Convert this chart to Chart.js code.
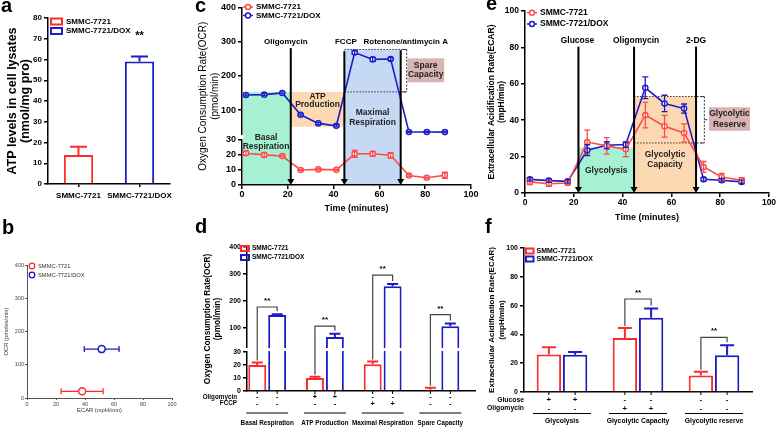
<!DOCTYPE html>
<html>
<head>
<meta charset="utf-8">
<script src="https://cdn.jsdelivr.net/npm/chart.js@4.4.1/dist/chart.umd.min.js"></script>
<style>
  body { margin: 0; background: #fff; }
  #fig { position: relative; width: 778px; height: 427px; overflow: hidden; background: #fff; }
  canvas { position: absolute; }
  .lt { position: absolute; font: bold 20px "Liberation Sans", Arial, sans-serif; line-height: 20px; z-index: 2; }
</style>
</head>
<body>
<div id="fig">
  <div class="lt" style="left:1px;top:-5px">a</div>
  <div class="lt" style="left:2px;top:217px">b</div>
  <div class="lt" style="left:195px;top:-5px">c</div>
  <div class="lt" style="left:195px;top:216px">d</div>
  <div class="lt" style="left:486px;top:-7px">e</div>
  <div class="lt" style="left:485px;top:216px">f</div>
  <canvas id="chartA"></canvas>
  <canvas id="chartB"></canvas>
  <canvas id="chartC"></canvas>
  <canvas id="chartD"></canvas>
  <canvas id="chartE"></canvas>
  <canvas id="chartF"></canvas>
</div>
<script>
// ---- data ----
const cellLines = ['SMMC-7721', 'SMMC-7721/DOX'];

// a - ATP levels
const atpLevel = [14, 59];
const atpErr = [4, 2.5];

// b - energy map
const mapEcar = [38, 51.5];
const mapEcarErr = [14.5, 12];
const mapOcr = [20, 147];

// c - OCR time course
const ocrTime = [1.7, 9.7, 17.6, 25.6, 33.3, 41.2, 49.2, 57.1, 64.9, 72.9, 80.7, 88.6];
const ocrParent = [21.2, 20.1, 19.3, 10, 10.4, 10.1, 20.8, 20.8, 19.8, 6.3, 4.8, 6.5];
const ocrParentErr = [1.5, 1.5, 0.6, 0.5, 0.5, 0.5, 2.3, 1.6, 1.8, 0.6, 0.5, 2];
const ocrDox = [144, 145, 150, 86, 61, 54, 268, 248, 249, 36, 36, 35.5];
const ocrDoxErr = [3, 3, 3, 3, 3, 3, 5, 6, 4, 2, 2, 2];
const ocrTicks = [0, 10, 20, 30, 100, 200, 300, 400];
const ocrInject = ['Oligomycin', 'FCCP', 'Rotenone/antimycin A'];
const ocrInjectTime = [21.3, 44.7, 69.3];

// d - OCR parameters
const ocrParams = ['Basal Respiration', 'ATP Production', 'Maximal Respiration', 'Spare Capacity'];
const ocrParamParent = [20, 10, 20.5, 1];
const ocrParamParentErr = [2, 1, 2.2, 1.5];
const ocrParamDox = [148, 67, 255, 107];
const ocrParamDoxErr = [3, 12, 8, 10];
const dOligomycin = ['-', '+', '-', '-'];
const dFccp = ['-', '-', '+', '-'];

// e - ECAR time course
const ecarTime = [2, 9.8, 17.5, 25.5, 33.5, 41.3, 49.3, 57.2, 65.2, 73.2, 80.6, 88.8];
const ecarParent = [6.1, 5.1, 5.5, 28, 25.9, 24, 42.8, 36.7, 33, 14.3, 8.8, 7];
const ecarParentErr = [1.5, 1.5, 1, 6.5, 4.5, 4, 7, 6, 5, 3, 2, 1.5];
const ecarDox = [7.5, 6.8, 6.4, 23.5, 26.2, 26.6, 57.8, 49.2, 46.4, 7.5, 7, 6.1];
const ecarDoxErr = [1, 1, 1, 3, 2, 1.5, 6, 4.5, 2.5, 1, 1, 1];
const ecarInject = ['Glucose', 'Oligomycin', '2-DG'];
const ecarInjectTime = [21.9, 44.7, 70.1];

// f - ECAR parameters
const ecarParams = ['Glycolysis', 'Glycolytic Capacity', 'Glycolytic reserve'];
const ecarParamParent = [26, 37.5, 11.5];
const ecarParamParentErr = [5, 7, 2.5];
const ecarParamDox = [25.8, 51.5, 25.5];
const ecarParamDoxErr = [2, 6.5, 7];
const fGlucose = ['+', '-', '-'];
const fOligomycin = ['-', '+', '-'];

// ---- styling / helpers ----
const RED = '#ff2b2b', REDL = '#ff4a4a', BLUE = '#1c1cc8';
const FONT = '"Liberation Sans", Arial, sans-serif';
Chart.defaults.font.family = FONT;
Chart.defaults.color = '#000';
Chart.defaults.animation = false;
Chart.defaults.responsive = false;
Chart.defaults.plugins.legend.display = false;
Chart.defaults.plugins.tooltip.enabled = false;

// y axis with a break: lower part and upper part get their own pixel share
class BrokenScale extends Chart.LinearScale {
  getPixelForValue(v) {
    const b = this.options.brk;
    if (v <= b.value) return this.bottom - (v - this.min) / (b.value - this.min) * b.low;
    const base = this.bottom - b.low - b.gap;
    return base - (v - b.value) / (this.max - b.value) * (base - this.top);
  }
  getValueForPixel(p) {
    const b = this.options.brk;
    const lowTop = this.bottom - b.low;
    if (p >= lowTop) return this.min + (this.bottom - p) / b.low * (b.value - this.min);
    const base = lowTop - b.gap;
    return b.value + (base - p) / (base - this.top) * (this.max - b.value);
  }
}
BrokenScale.id = 'broken';
BrokenScale.defaults = {};
Chart.register(BrokenScale);

// place canvas and return layout numbers so the plot area lands on [x0,y0,x1,y1]
function place(id, L, T, W, H, area) {
  const c = document.getElementById(id);
  c.width = W; c.height = H; c.style.left = L + 'px'; c.style.top = T + 'px';
  return {
    el: c,
    padding: { left: 0, top: area[1] - T, right: L + W - area[2], bottom: 0 },
    yw: area[0] - L,
    xh: T + H - area[3]
  };
}

function text(ctx, s, x, y, size, o = {}) {
  ctx.save();
  ctx.font = `${o.weight || 'bold'} ${size}px ${FONT}`;
  ctx.fillStyle = o.color || '#000';
  ctx.textAlign = o.align || 'center';
  ctx.textBaseline = 'middle';
  ctx.fillText(s, x, y);
  ctx.restore();
}
function box(ctx, x0, y0, x1, y1, fill) {
  ctx.save(); ctx.fillStyle = fill;
  ctx.fillRect(Math.min(x0, x1), Math.min(y0, y1), Math.abs(x1 - x0), Math.abs(y1 - y0));
  ctx.restore();
}
function seg(ctx, x0, y0, x1, y1, color, w, dash) {
  ctx.save(); ctx.strokeStyle = color; ctx.lineWidth = w;
  if (dash) ctx.setLineDash(dash);
  ctx.beginPath(); ctx.moveTo(x0, y0); ctx.lineTo(x1, y1); ctx.stroke();
  ctx.restore();
}
function bracket(ctx, x, yTop, yBot) {
  seg(ctx, x - 4, yTop, x, yTop, '#333', 1);
  seg(ctx, x, yTop, x, yBot, '#333', 1, [2, 1.5]);
  seg(ctx, x - 4, yBot, x, yBot, '#333', 1);
  seg(ctx, x, (yTop + yBot) / 2, x + 3, (yTop + yBot) / 2, '#333', 1);
}
function downArrow(ctx, x, y0, y1) {
  seg(ctx, x, y0, x, y1 - 5, '#000', 2);
  ctx.save(); ctx.fillStyle = '#000';
  ctx.beginPath(); ctx.moveTo(x - 3.5, y1 - 6); ctx.lineTo(x + 3.5, y1 - 6); ctx.lineTo(x, y1); ctx.closePath(); ctx.fill();
  ctx.restore();
}
function lineLegend(ctx, x, y, color, label, size) {
  ctx.save(); ctx.strokeStyle = color; ctx.lineWidth = 1.5;
  ctx.beginPath(); ctx.moveTo(x - 5, y); ctx.lineTo(x + 5, y); ctx.stroke();
  ctx.fillStyle = '#fff'; ctx.beginPath(); ctx.arc(x, y, 2.5, 0, Math.PI * 2); ctx.fill(); ctx.stroke();
  ctx.restore();
  text(ctx, label, x + 8, y, size, { align: 'left' });
}
function boxLegend(ctx, x, y, w, h, color, label, size, gap) {
  ctx.save(); ctx.strokeStyle = color; ctx.lineWidth = 2; ctx.strokeRect(x, y - h / 2, w, h); ctx.restore();
  text(ctx, label, x + w + gap, y, size, { align: 'left' });
}
function sig(ctx, xL, yL, xR, yR, yTop, size) {
  ctx.save(); ctx.strokeStyle = '#444'; ctx.lineWidth = 1.2;
  ctx.beginPath(); ctx.moveTo(xL, yL); ctx.lineTo(xL, yTop); ctx.lineTo(xR, yTop); ctx.lineTo(xR, yR); ctx.stroke();
  ctx.restore();
  text(ctx, '**', (xL + xR) / 2, yTop - 6, size);
}

// error bars
function errorBars(errs, cfg) {
  const hook = cfg.before ? 'beforeDatasetsDraw' : 'afterDatasetsDraw';
  return {
    id: 'errorBars',
    [hook](chart) {
      const ctx = chart.ctx;
      chart.data.datasets.forEach((ds, i) => {
        const e = errs[i];
        if (!e) return;
        const meta = chart.getDatasetMeta(i);
        const vs = meta.vScale;
        meta.data.forEach((el, j) => {
          const v = meta.controller.getParsed(j)[vs.axis];
          const col = Array.isArray(ds.borderColor) ? ds.borderColor[j] : ds.borderColor;
          const hi = vs.getPixelForValue(v + e[j]);
          const lo = cfg.up ? el.y : vs.getPixelForValue(v - e[j]);
          ctx.save(); ctx.strokeStyle = col; ctx.lineWidth = cfg.width;
          ctx.beginPath();
          ctx.moveTo(el.x, lo); ctx.lineTo(el.x, hi);
          ctx.moveTo(el.x - cfg.cap / 2, hi); ctx.lineTo(el.x + cfg.cap / 2, hi);
          if (!cfg.up) { ctx.moveTo(el.x - cfg.cap / 2, lo); ctx.lineTo(el.x + cfg.cap / 2, lo); }
          ctx.stroke(); ctx.restore();
        });
      });
    }
  };
}

function axisY(g, o) {
  return Object.assign({
    afterFit: s => { s.width = g.yw; },
    ticks: { font: { size: o.tick, weight: 'bold' }, padding: 2, color: '#000', autoSkip: false },
    grid: { drawOnChartArea: false, tickLength: 4, color: '#000', lineWidth: 1.5 },
    border: { color: '#000', width: 1.5 },
    title: { display: true, text: o.title, color: '#000', font: { size: o.tsize, weight: o.tweight || 'bold', lineHeight: o.tlh || 1.2 }, padding: { top: o.tpad, bottom: 0 } }
  }, o.extra || {});
}

// ---- a: ATP bar chart ----
const gA = place('chartA', 0, 0, 195, 212, [48, 18, 170, 184]);
new Chart(gA.el, {
  type: 'bar',
  data: {
    labels: cellLines,
    datasets: [{ data: atpLevel, borderColor: [RED, BLUE], backgroundColor: '#fff', borderWidth: 2,
      borderSkipped: 'start', barPercentage: 1, categoryPercentage: 0.48 }]
  },
  options: {
    layout: { padding: gA.padding, autoPadding: false },
    scales: {
      x: {
        afterFit: s => { s.height = gA.xh; },
        ticks: { font: { size: 8, weight: 'bold' }, color: '#000', padding: 4, maxRotation: 0, autoSkip: false },
        grid: { drawOnChartArea: false, offset: false, tickLength: 3, color: '#000', lineWidth: 1.5 },
        border: { color: '#000', width: 1.5 }
      },
      y: axisY(gA, { tick: 8, title: ['ATP levels in cell lysates', '(nmol/mg pro)'], tsize: 12.5, tlh: 1.05, tpad: 5.5,
        extra: { min: 0, max: 80 } })
    }
  },
  plugins: [errorBars([atpErr], { up: true, cap: 17, width: 2 }), {
    id: 'decorA',
    afterDraw(chart) {
      const { ctx, chartArea: a, scales: { y } } = chart;
      boxLegend(ctx, a.left + 3, 21.5, 11, 6, RED, cellLines[0], 8, 4);
      boxLegend(ctx, a.left + 3, 31, 11, 6, BLUE, cellLines[1], 8, 4);
      const bar = chart.getDatasetMeta(0).data[1];
      text(ctx, '**', bar.x, y.getPixelForValue(71.5), 11);
    }
  }]
});

// ---- b: energy map scatter ----
const gB = place('chartB', 0, 212, 195, 215, [27, 265, 172, 398]);
new Chart(gB.el, {
  type: 'scatter',
  data: {
    datasets: cellLines.map((name, i) => ({
      label: name,
      data: [{ x: mapEcar[i], y: mapOcr[i] }],
      pointRadius: 3.5, pointBorderWidth: 1.5, pointBackgroundColor: '#fff',
      borderColor: i ? BLUE : RED, pointBorderColor: i ? BLUE : RED
    }))
  },
  options: {
    layout: { padding: gB.padding, autoPadding: false },
    scales: {
      x: {
        min: 0, max: 100, afterFit: s => { s.height = gB.xh; },
        ticks: { stepSize: 20, font: { size: 5.5 }, color: '#444', padding: 1, maxRotation: 0 },
        grid: { drawOnChartArea: false, tickLength: 2, color: '#555' },
        border: { color: '#555', width: 1 },
        title: { display: true, text: 'ECAR (mpH/min)', color: '#333', font: { size: 5.8 }, padding: { top: 0, bottom: 13 } }
      },
      y: {
        min: 0, max: 400, afterFit: s => { s.width = gB.yw; },
        ticks: { stepSize: 100, font: { size: 5.5 }, color: '#444', padding: 1 },
        grid: { drawOnChartArea: false, tickLength: 2, color: '#555' },
        border: { color: '#555', width: 1 },
        title: { display: true, text: 'OCR (pmoles/min)', color: '#333', font: { size: 5.8 }, padding: { top: 3, bottom: 0 } }
      }
    }
  },
  plugins: [{
    id: 'decorB',
    beforeDatasetsDraw(chart) {
      const { ctx, scales: { x, y } } = chart;
      chart.data.datasets.forEach((ds, i) => {
        const py = y.getPixelForValue(mapOcr[i]);
        const l = x.getPixelForValue(mapEcar[i] - mapEcarErr[i]);
        const r = x.getPixelForValue(mapEcar[i] + mapEcarErr[i]);
        seg(ctx, l, py, r, py, ds.borderColor, 1.3);
        seg(ctx, l, py - 3, l, py + 3, ds.borderColor, 1.3);
        seg(ctx, r, py - 3, r, py + 3, ds.borderColor, 1.3);
      });
    },
    afterDraw(chart) {
      const ctx = chart.ctx;
      chart.data.datasets.forEach((ds, i) => {
        const yy = 266 - 212 + i * 9;
        ctx.save(); ctx.strokeStyle = ds.borderColor; ctx.lineWidth = 1.3;
        ctx.beginPath(); ctx.arc(32, yy, 2.8, 0, Math.PI * 2); ctx.stroke(); ctx.restore();
        text(ctx, ds.label, 38, yy, 5.8, { weight: 'normal', align: 'left', color: '#333' });
      });
    }
  }]
});

// ---- c: OCR time course ----
const gC = place('chartC', 195, 0, 285, 220, [242, 7, 471, 185]);
function lineSet(label, xs, ys, color, style) {
  return { label, data: xs.map((t, i) => ({ x: t, y: ys[i] })), borderColor: color, borderWidth: 1.6,
    pointRadius: 2.6, pointStyle: style, pointBackgroundColor: '#fff', pointBorderColor: color, pointBorderWidth: 1.4, tension: 0 };
}
new Chart(gC.el, {
  type: 'line',
  data: { datasets: [lineSet(cellLines[0], ocrTime, ocrParent, REDL, 'circle'), lineSet(cellLines[1], ocrTime, ocrDox, BLUE, 'circle')] },
  options: {
    layout: { padding: gC.padding, autoPadding: false },
    scales: {
      x: {
        type: 'linear', min: 0, max: 100, afterFit: s => { s.height = gC.xh; },
        ticks: { stepSize: 20, font: { size: 9, weight: 'bold' }, color: '#000', padding: 0, maxRotation: 0 },
        grid: { drawOnChartArea: false, tickLength: 4, color: '#000', lineWidth: 1.5 },
        border: { color: '#000', width: 1.5 },
        title: { display: true, text: 'Time (minutes)', color: '#000', font: { size: 9, weight: 'bold' }, padding: { top: 0, bottom: 5.6 } }
      },
      y: axisY(gC, { tick: 9, title: ['Oxygen Consumption Rate(OCR)', '(pmol/min)'], tsize: 10, tweight: 'normal', tpad: 2,
        extra: { type: 'broken', min: 0, max: 400, brk: { value: 30, low: 45, gap: 6 },
          afterBuildTicks: s => { s.ticks = ocrTicks.map(v => ({ value: v })); } } })
    }
  },
  plugins: [{
    id: 'decorC',
    beforeDatasetsDraw(chart) {
      const { ctx, scales: { x, y } } = chart;
      const X = v => x.getPixelForValue(v), Y = v => y.getPixelForValue(v);
      const [t1, t2, t3] = ocrInjectTime;
      box(ctx, X(0) + 1, Y(153), X(t1), Y(0) - 1, '#a6f0d3');
      box(ctx, X(t1), Y(153), X(t2), Y(51), '#fcd9b2');
      box(ctx, X(t2), Y(277), X(t3), Y(0) - 1, '#c6d9f4');
      seg(ctx, X(t2), Y(277), X(t3) + 5, Y(277), '#333', 1, [1.5, 1.5]);
      seg(ctx, X(t2), Y(153), X(t3) + 5, Y(153), '#333', 1, [1.5, 1.5]);
      bracket(ctx, X(t3) + 6, Y(277), Y(153));
      box(ctx, X(72.2), Y(251), X(88.3), Y(181), '#dab3b3');
      const c = '#222';
      text(ctx, 'Spare', X(80.2), Y(229), 8.5, { color: c });
      text(ctx, 'Capacity', X(80.2), Y(202), 8.5, { color: c });
      text(ctx, 'Basal', X(10.5), Y(25.5) - 9.5, 8.5, { color: c });
      text(ctx, 'Respiration', X(10.5), Y(25.5), 8.5, { color: c });
      text(ctx, 'ATP', X(33), Y(138), 8.5, { color: c });
      text(ctx, 'Production', X(33), Y(115), 8.5, { color: c });
      text(ctx, 'Maximal', X(57), Y(92), 8.5, { color: c });
      text(ctx, 'Respiration', X(57), Y(62), 8.5, { color: c });
    },
    afterDatasetsDraw(chart) {
      const { ctx, chartArea: a, scales: { x, y } } = chart;
      const X = v => x.getPixelForValue(v), Y = v => y.getPixelForValue(v);
      const tops = [281, 272, 275], shift = [-5, 1.5, 5];
      ocrInjectTime.forEach((t, i) => {
        downArrow(ctx, X(t), Y(tops[i]), Y(0));
        text(ctx, ocrInject[i], X(t) + shift[i], Y(300), 8);
      });
      // axis break
      const b = y.options.brk;
      ctx.save(); ctx.fillStyle = '#fff';
      ctx.fillRect(a.left - 3, a.bottom - b.low - b.gap + 1, 4.5, b.gap - 2); ctx.restore();
      lineLegend(ctx, a.left + 6, 7, REDL, cellLines[0], 8);
      lineLegend(ctx, a.left + 6, 15.5, BLUE, cellLines[1], 8);
    }
  }, errorBars([ocrParentErr, ocrDoxErr], { cap: 6, width: 1.3 })]
});

// ---- d: OCR parameters ----
const gD = place('chartD', 195, 220, 285, 207, [247, 247, 475, 391]);
function barSet(label, vals, color, asXY) {
  return { label, data: asXY ? vals.map((v, i) => ({ x: i, y: v })) : vals, borderColor: color, backgroundColor: '#fff',
    borderWidth: 2, borderSkipped: 'start' };
}
function paramRows(chart, rows, names, o) {
  const { ctx, chartArea: a } = chart;
  const m0 = chart.getDatasetMeta(0), m1 = chart.getDatasetMeta(1);
  rows.forEach((r, k) => {
    text(ctx, r.name, a.left + o.labelDx, o.rowY[k], o.size, { align: 'right' });
    r.signs.forEach((s, j) => {
      text(ctx, s, m0.data[j].x, o.rowY[k], o.size + 1);
      text(ctx, s, m1.data[j].x, o.rowY[k], o.size + 1);
    });
  });
  names.forEach((n, j) => {
    const cx = (m0.data[j].x + m1.data[j].x) / 2;
    seg(ctx, cx - o.half, o.lineY, cx + o.half, o.lineY, '#000', 1);
    text(ctx, n, cx, o.nameY, o.size);
    seg(ctx, m0.data[j].x, a.bottom, m0.data[j].x, a.bottom + 3, '#000', 1);
    seg(ctx, m1.data[j].x, a.bottom, m1.data[j].x, a.bottom + 3, '#000', 1);
  });
}
new Chart(gD.el, {
  type: 'bar',
  data: { datasets: [barSet(cellLines[0], ocrParamParent, RED, true), barSet(cellLines[1], ocrParamDox, BLUE, true)] },
  options: {
    layout: { padding: gD.padding, autoPadding: false },
    datasets: { bar: { barPercentage: 0.9, categoryPercentage: 0.69 } },
    scales: {
      x: {
        type: 'linear', min: -0.35, max: 3.6, offset: false, afterFit: s => { s.height = gD.xh; },
        afterBuildTicks: s => { s.ticks = ocrParams.map((_, i) => ({ value: i })); },
        ticks: { display: false }, grid: { display: false }, border: { color: '#000', width: 1.5 }
      },
      y: axisY(gD, { tick: 7, title: ['Oxygen Consumption Rate(OCR)', '(pmol/min)'], tsize: 8.3, tlh: 1.15, tpad: 8,
        extra: { type: 'broken', min: 0, max: 400, brk: { value: 30, low: 39, gap: 5 },
          afterBuildTicks: s => { s.ticks = ocrTicks.map(v => ({ value: v })); } } })
    }
  },
  plugins: [errorBars([ocrParamParentErr, ocrParamDoxErr], { up: true, cap: 11, width: 2 }), {
    id: 'decorD',
    afterDatasetsDraw(chart) {
      const { ctx, chartArea: a, scales: { y } } = chart;
      const b = y.options.brk;
      ctx.save(); ctx.fillStyle = '#fff';
      ctx.fillRect(a.left - 3, a.bottom - b.low - b.gap + 1, a.right - a.left + 3, b.gap - 2); ctx.restore();
      const Y = v => y.getPixelForValue(v);
      const m0 = chart.getDatasetMeta(0), m1 = chart.getDatasetMeta(1);
      const levels = [178, 107, 296, 150];
      levels.forEach((lv, j) => {
        sig(ctx, m0.data[j].x, Y(ocrParamParent[j] + ocrParamParentErr[j]) - 2,
          m1.data[j].x, Y(ocrParamDox[j] + ocrParamDoxErr[j]) - 3, Y(lv), 8);
      });
      boxLegend(ctx, a.left - 6, 248.5 - 220, 8, 5, RED, cellLines[0], 6.5, 3);
      boxLegend(ctx, a.left - 6, 257.5 - 220, 8, 5, BLUE, cellLines[1], 6.5, 3);
      paramRows(chart, [{ name: 'Oligomycin', signs: dOligomycin }, { name: 'FCCP', signs: dFccp }], ocrParams,
        { labelDx: -10, rowY: [397 - 220, 403.5 - 220], size: 6.3, half: 21, lineY: 413 - 220, nameY: 423 - 220 });
    }
  }]
});

// ---- e: ECAR time course ----
const gE = place('chartE', 480, 0, 298, 225, [525, 11, 769, 193]);
new Chart(gE.el, {
  type: 'line',
  data: { datasets: [lineSet(cellLines[0], ecarTime, ecarParent, REDL, 'circle'), lineSet(cellLines[1], ecarTime, ecarDox, BLUE, 'circle')] },
  options: {
    layout: { padding: gE.padding, autoPadding: false },
    scales: {
      x: {
        type: 'linear', min: 0, max: 100, afterFit: s => { s.height = gE.xh; },
        ticks: { stepSize: 20, font: { size: 8.5, weight: 'bold' }, color: '#000', padding: 1, maxRotation: 0 },
        grid: { drawOnChartArea: false, tickLength: 4, color: '#000', lineWidth: 1.5 },
        border: { color: '#000', width: 1.5 },
        title: { display: true, text: 'Time (minutes)', color: '#000', font: { size: 9, weight: 'bold' }, padding: { top: 0, bottom: 1.6 } }
      },
      y: axisY(gE, { tick: 8.5, title: ['Extracellular Acidification Rate(ECAR)', '(mpH/min)'], tsize: 8.5, tlh: 1.15, tpad: 6.8,
        extra: { min: 0, max: 100, ticks: { stepSize: 20, font: { size: 8.5, weight: 'bold' }, padding: 2, color: '#000' } } })
    }
  },
  plugins: [{
    id: 'decorE',
    beforeDatasetsDraw(chart) {
      const { ctx, scales: { x, y } } = chart;
      const X = v => x.getPixelForValue(v), Y = v => y.getPixelForValue(v);
      const [t1, t2, t3] = ecarInjectTime;
      box(ctx, X(t1), Y(25), X(t2), Y(0) - 1, '#a6f0d3');
      box(ctx, X(t2), Y(53), X(t3), Y(0) - 1, '#fcd9b2');
      seg(ctx, X(t2), Y(53), X(72.6), Y(53), '#333', 1, [1.5, 1.5]);
      seg(ctx, X(t2), Y(27.5), X(72.6), Y(27.5), '#333', 1, [1.5, 1.5]);
      bracket(ctx, X(73.5), Y(53), Y(27.5));
      box(ctx, X(75.4), Y(47.1), X(92.2), Y(34.2), '#dab3b3');
      const c = '#222';
      text(ctx, 'Glycolytic', X(83.8), Y(43.4), 8.5, { color: c });
      text(ctx, 'Reserve', X(83.8), Y(37.4), 8.5, { color: c });
      text(ctx, 'Glycolysis', X(33.3), Y(12.1), 8.5, { color: c });
      text(ctx, 'Glycolytic', X(57.4), Y(20.9), 8.5, { color: c });
      text(ctx, 'Capacity', X(57.4), Y(15.4), 8.5, { color: c });
    },
    afterDatasetsDraw(chart) {
      const { ctx, chartArea: a, scales: { x, y } } = chart;
      const X = v => x.getPixelForValue(v), Y = v => y.getPixelForValue(v);
      const shift = [-1, 2, 0];
      ecarInjectTime.forEach((t, i) => {
        downArrow(ctx, X(t), Y(80.4), Y(0));
        text(ctx, ecarInject[i], X(t) + shift[i], Y(83.8), 8.5);
      });
      lineLegend(ctx, a.left + 7, 12.7, REDL, cellLines[0], 8.5);
      lineLegend(ctx, a.left + 7, 24, BLUE, cellLines[1], 8.5);
    }
  }, errorBars([ecarParentErr, ecarDoxErr], { cap: 6, width: 1.3 })]
});

// ---- f: ECAR parameters ----
const gF = place('chartF', 480, 225, 298, 202, [524, 248, 752, 392]);
new Chart(gF.el, {
  type: 'bar',
  data: { labels: ecarParams, datasets: [barSet(cellLines[0], ecarParamParent, RED), barSet(cellLines[1], ecarParamDox, BLUE)] },
  options: {
    layout: { padding: gF.padding, autoPadding: false },
    datasets: { bar: { barPercentage: 0.93, categoryPercentage: 0.69 } },
    scales: {
      x: {
        afterFit: s => { s.height = gF.xh; },
        ticks: { display: false }, grid: { display: false }, border: { color: '#000', width: 1.5 }
      },
      y: axisY(gF, { tick: 7, title: ['Extracellular Acidification Rate(ECAR)', '(mpH/min)'], tsize: 8, tlh: 1.2, tpad: 7,
        extra: { min: 0, max: 100, ticks: { stepSize: 20, font: { size: 7, weight: 'bold' }, padding: 2, color: '#000' } } })
    }
  },
  plugins: [errorBars([ecarParamParentErr, ecarParamDoxErr], { up: true, cap: 14, width: 2 }), {
    id: 'decorF',
    afterDatasetsDraw(chart) {
      const { ctx, chartArea: a, scales: { y } } = chart;
      const Y = v => y.getPixelForValue(v);
      const m0 = chart.getDatasetMeta(0), m1 = chart.getDatasetMeta(1);
      const levels = [null, 64.6, 38];
      levels.forEach((lv, j) => {
        if (lv === null) return;
        sig(ctx, m0.data[j].x, Y(ecarParamParent[j] + ecarParamParentErr[j]) - 2,
          m1.data[j].x, Y(ecarParamDox[j] + ecarParamDoxErr[j]) - 3, Y(lv), 8);
      });
      boxLegend(ctx, a.left + 2, 251 - 225, 7.5, 5, RED, cellLines[0], 7, 3);
      boxLegend(ctx, a.left + 2, 259 - 225, 7.5, 5, BLUE, cellLines[1], 7, 3);
      paramRows(chart, [{ name: 'Glucose', signs: fGlucose }, { name: 'Oligomycin', signs: fOligomycin }], ecarParams,
        { labelDx: 0, rowY: [400 - 225, 408.5 - 225], size: 6.8, half: 29, lineY: 413.5 - 225, nameY: 421 - 225 });
    }
  }]
});
</script>
</body>
</html>
